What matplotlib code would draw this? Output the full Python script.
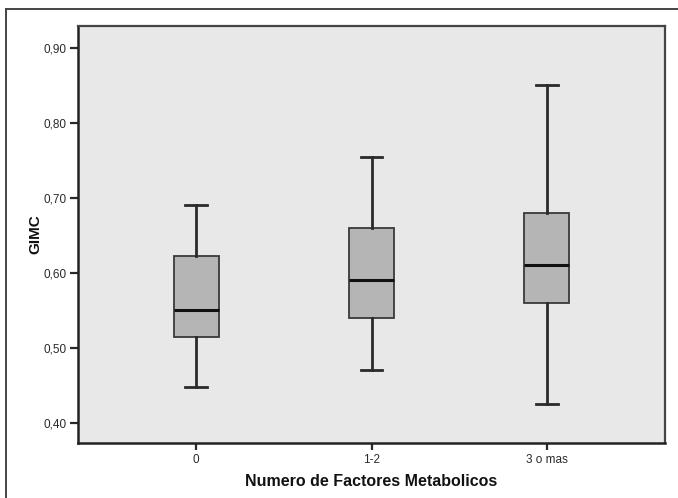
import matplotlib
matplotlib.use("Agg")
import matplotlib.pyplot as plt
from matplotlib.lines import Line2D

plt.rcParams['font.family'] = ['Liberation Sans', 'DejaVu Sans']

categorias = ['0', '1-2', '3 o mas']
bigote_inf = [0.448, 0.470, 0.425]
q1 = [0.515, 0.540, 0.560]
mediana = [0.550, 0.590, 0.610]
q3 = [0.622, 0.660, 0.680]
bigote_sup = [0.690, 0.755, 0.850]
ticks_y = [0.40, 0.50, 0.60, 0.70, 0.80, 0.90]

stats = []
for i, c in enumerate(categorias):
    stats.append({'label': c, 'whislo': bigote_inf[i], 'q1': q1[i], 'med': mediana[i],
                  'q3': q3[i], 'whishi': bigote_sup[i], 'fliers': []})

fig = plt.figure(figsize=(6.78, 4.98), dpi=100)
ax = fig.add_axes([78 / 678, 1 - 443 / 498, 587 / 678, 417 / 498])
ax.set_facecolor('#e8e8e8')

linea = '#2a2a2a'
ax.bxp(stats, positions=[1, 2, 3], widths=0.256, patch_artist=True, showfliers=False,
       boxprops=dict(facecolor='#b5b5b5', edgecolor='#3a3a3a', linewidth=1.3),
       medianprops=dict(color='#111111', linewidth=2.2),
       whiskerprops=dict(color=linea, linewidth=2.0),
       capprops=dict(color=linea, linewidth=2.0),
       capwidths=0.125)

ax.set_xlim(0.327, 3.673)
ax.set_ylim(0.3733, 0.9293)
ax.set_yticks(ticks_y)
ax.set_yticklabels([f'{t:.2f}'.replace('.', ',') for t in ticks_y])
ax.set_xticks([1, 2, 3])
ax.set_xticklabels(categorias)

ax.tick_params(axis='y', direction='out', length=6, width=1.6, colors='#2a2a2a',
               labelsize=8.5, pad=2)
ax.tick_params(axis='x', direction='out', length=5, width=1.6, colors='#2a2a2a',
               labelsize=8.5, pad=3)
for lado in ['left', 'bottom']:
    ax.spines[lado].set_linewidth(1.8)
    ax.spines[lado].set_color('#222222')
for lado in ['top', 'right']:
    ax.spines[lado].set_linewidth(1.6)
    ax.spines[lado].set_color('#444444')

ax.set_ylabel('GIMC', fontsize=11, fontweight='bold', color='#111111', labelpad=1)
ax.set_xlabel('Numero de Factores Metabolicos', fontsize=11.5, fontweight='bold',
              color='#111111', labelpad=6)

# marco exterior (superior e izquierdo)
fig.add_artist(Line2D([6 / 678, 1], [1 - 9 / 498, 1 - 9 / 498], color='#444444',
                      linewidth=1.4, transform=fig.transFigure))
fig.add_artist(Line2D([6 / 678, 6 / 678], [0, 1 - 9 / 498], color='#444444',
                      linewidth=1.4, transform=fig.transFigure))

fig.savefig('out.png', dpi=100)
